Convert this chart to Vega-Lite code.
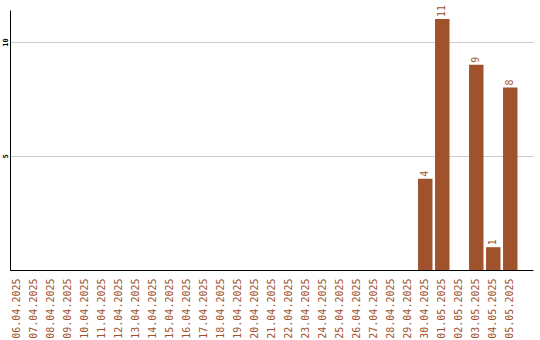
{
  "$schema": "https://vega.github.io/schema/vega-lite/v6.json",
  "width": 523,
  "height": 260,
  "autosize": "none",
  "padding": {"left": 10, "top": 10, "right": 7, "bottom": 70},
  "background": "white",
  "config": {"view": {"stroke": null}},
  "data": {
    "values": [
      {"date": "06.04.2025", "count": 0},
      {"date": "07.04.2025", "count": 0},
      {"date": "08.04.2025", "count": 0},
      {"date": "09.04.2025", "count": 0},
      {"date": "10.04.2025", "count": 0},
      {"date": "11.04.2025", "count": 0},
      {"date": "12.04.2025", "count": 0},
      {"date": "13.04.2025", "count": 0},
      {"date": "14.04.2025", "count": 0},
      {"date": "15.04.2025", "count": 0},
      {"date": "16.04.2025", "count": 0},
      {"date": "17.04.2025", "count": 0},
      {"date": "18.04.2025", "count": 0},
      {"date": "19.04.2025", "count": 0},
      {"date": "20.04.2025", "count": 0},
      {"date": "21.04.2025", "count": 0},
      {"date": "22.04.2025", "count": 0},
      {"date": "23.04.2025", "count": 0},
      {"date": "24.04.2025", "count": 0},
      {"date": "25.04.2025", "count": 0},
      {"date": "26.04.2025", "count": 0},
      {"date": "27.04.2025", "count": 0},
      {"date": "28.04.2025", "count": 0},
      {"date": "29.04.2025", "count": 0},
      {"date": "30.04.2025", "count": 4},
      {"date": "01.05.2025", "count": 11},
      {"date": "02.05.2025", "count": 0},
      {"date": "03.05.2025", "count": 9},
      {"date": "04.05.2025", "count": 1},
      {"date": "05.05.2025", "count": 8}
    ]
  },
  "encoding": {
    "x": {
      "field": "date",
      "type": "ordinal",
      "sort": null,
      "scale": {"paddingInner": 0.15, "paddingOuter": 0.456, "align": 0},
      "axis": {
        "title": null,
        "labelAngle": -90,
        "labelAlign": "right",
        "labelBaseline": "middle",
        "labelColor": "#A0522D",
        "labelFont": "DejaVu Sans Mono",
        "labelFontSize": 10,
        "labelPadding": 8,
        "ticks": false,
        "domainColor": "black",
        "domainWidth": 1
      }
    },
    "y": {
      "field": "count",
      "type": "quantitative",
      "scale": {"domain": [0, 11.4], "nice": false},
      "axis": {
        "title": null,
        "values": [5, 10],
        "ticks": false,
        "labelAngle": -90,
        "labelAlign": "center",
        "labelBaseline": "bottom",
        "labelPadding": 2,
        "labelColor": "black",
        "labelFont": "DejaVu Sans Mono",
        "labelFontSize": 7,
        "labelFontWeight": "bold",
        "gridColor": "#cccccc",
        "gridWidth": 1,
        "domainColor": "black",
        "domainWidth": 1
      }
    }
  },
  "layer": [
    {
      "mark": {"type": "bar", "color": "#A0522D"}
    },
    {
      "mark": {
        "type": "text",
        "angle": -90,
        "align": "left",
        "baseline": "middle",
        "dx": 2,
        "color": "#A0522D",
        "font": "DejaVu Sans Mono",
        "fontSize": 10
      },
      "transform": [{"filter": "datum.count > 0"}],
      "encoding": {"text": {"field": "count", "type": "quantitative"}}
    }
  ]
}
